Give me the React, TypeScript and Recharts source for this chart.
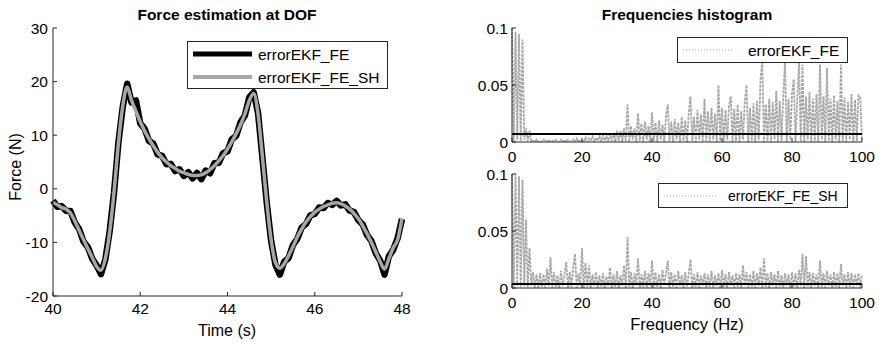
import React from 'react'
import { LineChart, Line, XAxis, YAxis, ReferenceLine } from 'recharts'

// force estimate, sampled every 0.1 s from 40 s to 48 s
const timeStart = 40
const timeStep = 0.1
const forceFE = [
  -2.2, -3.35, -3.25, -4.1, -4.15, -6.3, -7.55, -9.85, -10.9, -13.05,
  -14.3, -15.9, -13.2, -7.85, -0.65, 8.7, 15.35, 19.6, 16.1, 16.5,
  12.2, 11.2, 8.95, 8.4, 6.4, 6.15, 4.6, 4.65, 3.3, 3.65,
  2.4, 3.1, 1.95, 2.95, 1.8, 3.4, 2.9, 4.75, 4.85, 6.65,
  7.0, 9.25, 9.9, 12.4, 13.7, 17.1, 18.0, 14.15, 5.85, -2.65,
  -9.7, -14.2, -16.0, -13.6, -12.9, -10.5, -9.35, -7.25, -6.55, -4.95,
  -4.7, -3.5, -3.6, -2.65, -3.0, -2.25, -3.1, -2.9, -4.05, -4.35,
  -5.85, -6.65, -8.65, -9.75, -12.05, -13.4, -16.0, -12.6, -11.35, -9.2,
  -5.65,
]
const forceFESH = [
  -2.5, -3.0, -3.5, -3.8, -4.5, -6.0, -7.8, -9.5, -11.2, -12.8,
  -14.5, -15.2, -13.0, -8.0, -0.5, 8.5, 15.5, 19.0, 16.5, 14.5,
  12.5, 10.8, 9.3, 8.0, 6.8, 5.8, 5.0, 4.3, 3.8, 3.3,
  3.0, 2.7, 2.5, 2.5, 2.6, 3.0, 3.6, 4.3, 5.2, 6.2,
  7.4, 8.8, 10.3, 12.0, 14.0, 16.5, 17.8, 14.0, 6.0, -2.5,
  -9.5, -13.8, -14.8, -14.0, -12.5, -10.8, -9.0, -7.5, -6.2, -5.2,
  -4.4, -3.8, -3.3, -3.0, -2.7, -2.6, -2.8, -3.2, -3.8, -4.6,
  -5.6, -6.9, -8.4, -10.0, -11.8, -13.6, -15.0, -13.0, -11.0, -9.5,
  -5.5,
]

// spectra, every 0.5 Hz from 0 to 100 Hz, in thousandths
const freqStep = 0.5
const specFE = [
  100, 1, 97, 2, 95, 1, 90, 2, 12, 1, 10,
  0, 1, 0, 2, 0, 1, 0, 2, 1, 0, 2, 0, 1, 0, 2, 1, 0, 2, 0, 1, 0, 2, 0, 1, 2, 0, 3, 0, 2, 1,
  0, 4, 0, 3, 1, 5, 0, 4, 1, 5, 0, 6, 1, 5, 0, 7, 1, 8, 0, 10,
  1, 10, 0, 12, 1, 33, 0, 14, 2, 12, 0, 25, 1, 16, 0, 18, 2, 14, 0, 26,
  1, 17, 0, 19, 2, 15, 0, 22, 33, 1, 18, 0, 20, 2, 17, 0, 22, 1, 19, 0,
  25, 40, 1, 22, 0, 28, 2, 24, 0, 38, 1, 27, 0, 30, 2, 25, 0, 50, 1, 30,
  0, 28, 2, 32, 40, 0, 29, 1, 33, 0, 27, 2, 35, 50, 0, 30, 1, 34, 0, 36,
  2, 55, 70, 0, 33, 1, 38, 0, 35, 2, 45, 0, 36, 1, 40, 70, 0, 38, 2, 42,
  55, 0, 37, 70, 1, 68, 0, 40, 2, 44, 0, 38, 1, 42, 0, 68, 2, 40, 0, 65,
  1, 38, 0, 41, 2, 36, 0, 68, 1, 39, 0, 35, 2, 42, 0, 37, 1, 41, 40, 2,
]
const specFESH = [
  100, 1, 100, 2, 98, 1, 95, 2, 60, 1, 35, 2, 14, 0, 12,
  0, 13, 1, 12, 0, 17, 2, 27, 0, 14, 1, 11, 0, 15, 2, 12, 23, 0, 14, 1, 18, 30, 0, 13, 2, 35,
  0, 22, 1, 20, 0, 12, 2, 14, 0, 11, 1, 13, 0, 10, 2, 18, 0, 12, 1, 15,
  0, 11, 2, 20, 0, 45, 1, 14, 0, 13, 2, 26, 0, 12, 1, 15, 0, 13, 2, 24,
  0, 14, 1, 12, 0, 16, 2, 13, 24, 0, 14, 1, 12, 0, 15, 2, 11, 0, 14, 1,
  13, 25, 0, 12, 1, 14, 0, 11, 2, 13, 0, 12, 1, 15, 0, 11, 2, 13, 0, 16,
  1, 12, 0, 14, 2, 11, 0, 13, 1, 12, 0, 20, 2, 14, 0, 12, 1, 15, 0, 13,
  2, 18, 0, 26, 1, 13, 0, 14, 2, 12, 0, 15, 1, 11, 0, 13, 2, 12, 0, 14,
  1, 13, 0, 16, 2, 30, 0, 28, 1, 14, 0, 13, 2, 12, 0, 24, 1, 13, 0, 15,
  2, 12, 0, 14, 1, 13, 0, 21, 2, 12, 0, 14, 1, 13, 0, 12, 2, 13, 0, 12,
]
const meanFE = 0.007
const meanFESH = 0.0035

const timeTicks = [40, 42, 44, 46, 48]
const forceTicks = [-20, -10, 0, 10, 20, 30]
const freqTicks = [0, 20, 40, 60, 80, 100]
const magTicks = [0, 0.05, 0.1]

const forceData = forceFE.map((v, i) => ({
  t: +(timeStart + i * timeStep).toFixed(2),
  fe: v,
  sh: forceFESH[i],
}))
const feData = specFE.map((v, i) => ({ f: i * freqStep, v: v / 1000 }))
const shData = specFESH.map((v, i) => ({ f: i * freqStep, v: v / 1000 }))

const FONT = '"Liberation Sans", Arial, sans-serif'
const AXIS = '#262626'
const SPEC = '#a8a8a8'
const FS = 15.5

const XTick = ({ x, y, payload, gap }: any) => (
  <g>
    <line x1={x} x2={x} y1={y - gap} y2={y - gap - 4} stroke={AXIS} />
    <text x={x} y={y} dy="0.72em" textAnchor="middle" fontSize={FS} fontFamily={FONT} fill="#000">
      {payload.value}
    </text>
  </g>
)

const YTick = ({ x, y, payload, gap }: any) => (
  <g>
    <line x1={x + gap} x2={x + gap + 4} y1={y} y2={y} stroke={AXIS} />
    <text x={x} y={y} dy="0.36em" textAnchor="end" fontSize={FS} fontFamily={FONT} fill="#000">
      {payload.value}
    </text>
  </g>
)

const xAxis = (key: string, domain: number[], ticks: number[], gap: number) => (
  <XAxis
    dataKey={key}
    type="number"
    domain={domain}
    ticks={ticks}
    height={1}
    tickSize={0}
    tickMargin={gap}
    interval={0}
    axisLine={{ stroke: AXIS }}
    tickLine={false}
    tick={(p: any) => <XTick {...p} gap={gap} />}
  />
)

const yAxis = (domain: number[], ticks: number[], gap: number) => (
  <YAxis
    type="number"
    domain={domain}
    ticks={ticks}
    width={1}
    tickSize={0}
    tickMargin={gap}
    interval={0}
    allowDataOverflow
    axisLine={{ stroke: AXIS }}
    tickLine={false}
    tick={(p: any) => <YTick {...p} gap={gap} />}
  />
)

const txt = { fontFamily: FONT, fill: '#000' }

export default function App() {
  return (
    <div style={{ position: 'fixed', left: 0, top: 0, width: 879, height: 344, background: '#fff' }}>
      <div style={{ position: 'absolute', left: 0, top: 0 }}>
        <LineChart width={420} height={344} data={forceData} margin={{ top: 28, left: 52, right: 18, bottom: 47 }}>
          {xAxis('t', [40, 48], timeTicks, 7)}
          {yAxis([-20, 30], forceTicks, 5)}
          <Line dataKey="fe" type="linear" stroke="#000" strokeWidth={6.5} strokeLinejoin="round" dot={false} isAnimationActive={false} />
          <Line dataKey="sh" type="monotone" stroke="#a6a6a6" strokeWidth={3.5} dot={false} isAnimationActive={false} />
        </LineChart>
      </div>
      <div style={{ position: 'absolute', left: 440, top: 0 }}>
        <LineChart width={439} height={172} data={feData} margin={{ top: 28, left: 71, right: 17, bottom: 29 }}>
          {xAxis('f', [0, 100], freqTicks, 9)}
          {yAxis([0, 0.1], magTicks, 4)}
          <Line dataKey="v" type="linear" stroke={SPEC} strokeWidth={1.8} strokeDasharray="3 1" dot={false} isAnimationActive={false} />
          <ReferenceLine y={meanFE} stroke="#000" strokeWidth={2} />
        </LineChart>
      </div>
      <div style={{ position: 'absolute', left: 440, top: 164 }}>
        <LineChart width={439} height={180} data={shData} margin={{ top: 10, left: 71, right: 17, bottom: 55 }}>
          {xAxis('f', [0, 100], freqTicks, 9)}
          {yAxis([0, 0.1], magTicks, 4)}
          <Line dataKey="v" type="linear" stroke={SPEC} strokeWidth={1.8} strokeDasharray="3 1" dot={false} isAnimationActive={false} />
          <ReferenceLine y={meanFESH} stroke="#000" strokeWidth={2} />
        </LineChart>
      </div>
      <svg width={879} height={344} style={{ position: 'absolute', left: 0, top: 0, pointerEvents: 'none' }}>
        <text x={227} y={20} textAnchor="middle" fontSize={15.5} fontWeight="bold" {...txt}>Force estimation at DOF</text>
        <text x={687} y={20} textAnchor="middle" fontSize={15.5} fontWeight="bold" {...txt}>Frequencies histogram</text>
        <text x={227} y={336} textAnchor="middle" fontSize={16} {...txt}>Time (s)</text>
        <text x={687} y={330} textAnchor="middle" fontSize={16.5} {...txt}>Frequency (Hz)</text>
        <text x={0} y={0} textAnchor="middle" fontSize={16} transform="translate(21,167) rotate(-90)" {...txt}>Force (N)</text>

        <rect x={187.5} y={41.5} width={200} height={47} fill="#fff" stroke={AXIS} />
        <line x1={193} x2={252} y1={54} y2={54} stroke="#000" strokeWidth={5} />
        <line x1={193} x2={252} y1={77} y2={77} stroke="#a6a6a6" strokeWidth={4} />
        <text x={258} y={60} fontSize={FS} {...txt}>errorEKF_FE</text>
        <text x={258} y={83} fontSize={FS} {...txt}>errorEKF_FE_SH</text>

        <rect x={677.5} y={37.5} width={170} height={25} fill="#fff" stroke={AXIS} />
        <line x1={683} x2={733} y1={50} y2={50} stroke={SPEC} strokeDasharray="1 2" />
        <text x={748} y={56} fontSize={FS} {...txt}>errorEKF_FE</text>

        <rect x={658.5} y={183.5} width={189} height={24} fill="#fff" stroke={AXIS} />
        <line x1={664} x2={718} y1={196} y2={196} stroke={SPEC} strokeDasharray="1 2" />
        <text x={728} y={201} fontSize={14} {...txt}>errorEKF_FE_SH</text>
      </svg>
    </div>
  )
}
